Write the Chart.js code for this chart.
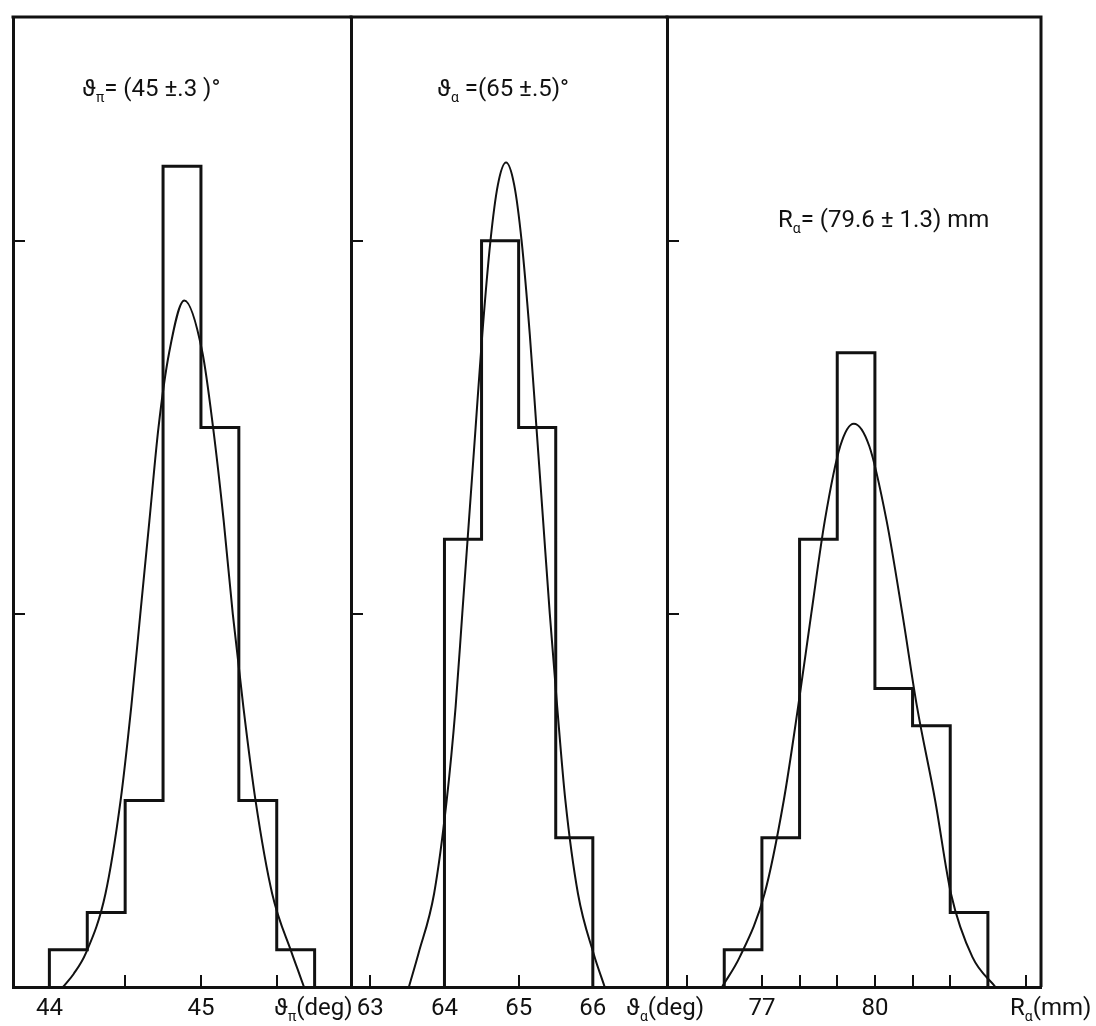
<!DOCTYPE html>
<html>
<head>
  <title>Distribuciones angulares</title>
  <script src="https://cdn.jsdelivr.net/npm/chart.js@4.4.1/dist/chart.umd.min.js"></script>
  <style>
    body { margin: 0; background: #fff; }
    #wrap { position: relative; width: 1096px; height: 1026px; }
    canvas { position: absolute; left: 0; top: 0; }
  </style>
</head>
<body>
  <div id="wrap">
    <canvas id="c1" width="1096" height="1026"></canvas>
    <canvas id="c2" width="1096" height="1026"></canvas>
    <canvas id="c3" width="1096" height="1026"></canvas>
  </div>
  <script>
    // panel 1: theta_pi (deg)
    const p1Edges = [44.0, 44.25, 44.5, 44.75, 45.0, 45.25, 45.5, 45.75];
    const p1Counts = [1, 2, 5, 22, 15, 5, 1];
    const p1CurveX = [44.09, 44.16, 44.24, 44.37, 44.47, 44.54, 44.60, 44.66, 44.72, 44.79, 44.89, 45.01, 45.08, 45.15, 45.21, 45.28, 45.36, 45.47, 45.60, 45.64, 45.68];
    const p1CurveY = [0, 0.35, 0.9, 2.5, 5.0, 7.5, 10.0, 12.5, 15.0, 17.0, 18.4, 17.0, 15.0, 12.5, 10.0, 7.5, 5.0, 2.5, 0.9, 0.45, 0];
    const p1Ticks = [44, 44.5, 45, 45.5];
    const p1Labels = [44, 45];

    // panel 2: theta_alpha (deg)
    const p2Edges = [64.0, 64.5, 65.0, 65.5, 66.0];
    const p2Counts = [12, 20, 15, 4];
    const p2CurveX = [63.52, 63.65, 63.86, 64.03, 64.15, 64.24, 64.33, 64.42, 64.51, 64.62, 64.72, 64.83, 64.94, 65.04, 65.15, 65.24, 65.33, 65.42, 65.52, 65.63, 65.80, 66.01, 66.16];
    const p2CurveY = [0, 0.9, 2.5, 5.0, 7.5, 10.0, 12.5, 15.0, 17.5, 20.0, 21.5, 22.1, 21.5, 20.0, 17.5, 15.0, 12.5, 10.0, 7.5, 5.0, 2.5, 0.9, 0];
    const p2Ticks = [63, 64, 65, 66];
    const p2Labels = [63, 64, 65, 66];

    // panel 3: R_alpha (mm)
    const p3Edges = [76, 77, 78, 79, 80, 81, 82, 83];
    const p3Counts = [1, 4, 12, 17, 8, 7, 2];
    const p3CurveX = [75.94, 76.41, 77.07, 77.58, 77.96, 78.31, 78.67, 79.08, 79.44, 79.85, 80.31, 80.73, 81.12, 81.60, 82.02, 82.59, 83.20];
    const p3CurveY = [0, 0.8, 2.5, 5.0, 7.5, 10.0, 12.5, 14.5, 15.1, 14.5, 12.5, 10.0, 7.5, 5.0, 2.5, 0.8, 0];
    const p3Ticks = [75, 76, 77, 78, 79, 80, 81, 82, 83, 84];
    const p3Labels = [77, 80];

    const yTicks = [10, 20];
    const yMax = 26;

    const INK = '#111';
    const FONT = 'Roboto, "DejaVu Sans", sans-serif';

    function histPoints(edges, counts) {
      const pts = [{x: edges[0], y: 0}];
      for (let i = 0; i < counts.length; i++) {
        pts.push({x: edges[i], y: counts[i]});
      }
      pts.push({x: edges[edges.length - 1], y: 0});
      return pts;
    }

    function curvePoints(xs, ys) {
      return xs.map((x, i) => ({x: x, y: ys[i]}));
    }

    // text with subscripts
    function drawRich(ctx, x, y, parts, size) {
      let cx = x;
      parts.forEach(p => {
        const s = p.sub ? Math.round(size * 0.6) : size;
        ctx.font = s + 'px ' + FONT;
        ctx.fillText(p.t, cx, y + (p.sub ? size * 0.25 : 0));
        cx += ctx.measureText(p.t).width;
      });
    }

    const framePlugin = {
      id: 'frame',
      afterDraw(chart, args, opts) {
        const ctx = chart.ctx;
        const a = chart.chartArea;
        ctx.save();
        ctx.strokeStyle = INK;
        ctx.lineWidth = 3;
        ctx.beginPath();
        ctx.moveTo(a.left - 1.5, a.top);
        ctx.lineTo(a.right + 1.5, a.top);
        if (opts.right) {
          ctx.moveTo(a.right, a.top);
          ctx.lineTo(a.right, a.bottom);
        }
        ctx.stroke();
        ctx.fillStyle = INK;
        ctx.textAlign = 'left';
        ctx.textBaseline = 'alphabetic';
        drawRich(ctx, opts.tx, opts.ty, opts.title, 24);
        drawRich(ctx, opts.ux, opts.uy, opts.unit, 24);
        ctx.restore();
      }
    };

    function makePanel(id, left, right, xMin, xMax, xTicks, xLabels, edges, counts, cX, cY, frameOpts) {
      const gridOpts = { drawOnChartArea: false, drawTicks: true, tickLength: -12, color: INK, lineWidth: 2 };
      new Chart(document.getElementById(id), {
        type: 'line',
        data: {
          datasets: [
            { data: histPoints(edges, counts), stepped: true, borderColor: INK, borderWidth: 3, pointRadius: 0, fill: false },
            { data: curvePoints(cX, cY), cubicInterpolationMode: 'monotone', borderColor: INK, borderWidth: 2, pointRadius: 0, fill: false }
          ]
        },
        options: {
          responsive: false,
          animation: false,
          layout: { padding: { left: left, right: 1096 - right, top: 17, bottom: 0 } },
          plugins: { legend: { display: false }, tooltip: { enabled: false }, frame: frameOpts },
          scales: {
            x: {
              type: 'linear', min: xMin, max: xMax,
              afterBuildTicks: s => { s.ticks = xTicks.map(v => ({value: v})); },
              afterFit: s => { s.height = 39; },
              grid: gridOpts,
              border: { display: true, color: INK, width: 3 },
              ticks: {
                autoSkip: false, maxRotation: 0, padding: 20, color: INK,
                font: { family: FONT, size: 24 },
                callback: v => xLabels.includes(v) ? String(v) : ''
              }
            },
            y: {
              type: 'linear', min: 0, max: yMax,
              afterBuildTicks: s => { s.ticks = yTicks.map(v => ({value: v})); },
              afterFit: s => { s.width = 0; },
              grid: gridOpts,
              border: { display: true, color: INK, width: 3 },
              ticks: { display: false }
            }
          }
        },
        plugins: [framePlugin]
      });
    }

    makePanel('c1', 13, 351, 43.76, 45.99, p1Ticks, p1Labels, p1Edges, p1Counts, p1CurveX, p1CurveY, {
      tx: 82, ty: 96, title: [{t: 'ϑ'}, {t: 'π', sub: true}, {t: '= (45 ±.3 )°'}],
      ux: 274, uy: 1015, unit: [{t: 'ϑ'}, {t: 'π', sub: true}, {t: '(deg)'}]
    });
    makePanel('c2', 351, 667, 62.74, 67.0, p2Ticks, p2Labels, p2Edges, p2Counts, p2CurveX, p2CurveY, {
      tx: 437, ty: 96, title: [{t: 'ϑ'}, {t: 'α', sub: true}, {t: ' =(65 ±.5)°'}],
      ux: 626, uy: 1015, unit: [{t: 'ϑ'}, {t: 'α', sub: true}, {t: '(deg)'}]
    });
    makePanel('c3', 667, 1041, 74.48, 84.41, p3Ticks, p3Labels, p3Edges, p3Counts, p3CurveX, p3CurveY, {
      right: true,
      tx: 778, ty: 227, title: [{t: 'R'}, {t: 'α', sub: true}, {t: '= (79.6 ± 1.3) mm'}],
      ux: 1010, uy: 1015, unit: [{t: 'R'}, {t: 'α', sub: true}, {t: '(mm)'}]
    });
  </script>
</body>
</html>
